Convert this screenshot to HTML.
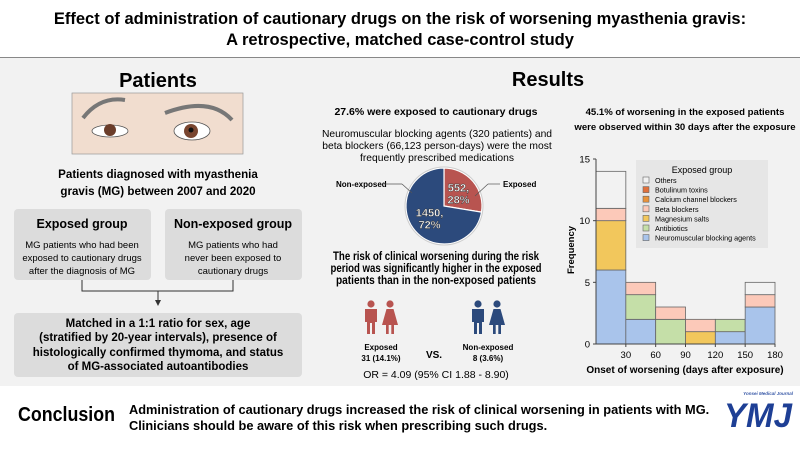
<!DOCTYPE html>
<html><head><meta charset="utf-8"><style>
body{margin:0;width:800px;height:450px;overflow:hidden;background:#fff;font-family:"Liberation Sans",sans-serif}
svg text{font-family:"Liberation Sans",sans-serif}
</style></head><body>
<svg width="800" height="450" viewBox="0 0 800 450">
<rect x="0" y="58" width="800" height="328" fill="#f2f2f2"/>
<line x1="0" y1="57.5" x2="800" y2="57.5" stroke="#888" stroke-width="1"/>
<text x="400" y="24" text-anchor="middle" font-size="16.5" font-weight="bold">Effect of administration of cautionary drugs on the risk of worsening myasthenia gravis:</text>
<text x="400" y="45" text-anchor="middle" font-size="16.5" font-weight="bold">A retrospective, matched case-control study</text>

<!-- Patients -->
<text x="158" y="87" text-anchor="middle" font-size="20" font-weight="bold">Patients</text>
<g>
<rect x="72" y="93" width="171" height="61" fill="#f1ddcf" stroke="#999" stroke-width="0.7"/>
<path d="M83 118 Q100 96 125 100" stroke="#777" stroke-width="4" fill="none"/>
<path d="M165 113 Q210 96 232 120" stroke="#777" stroke-width="4" fill="none"/>
<ellipse cx="110" cy="131" rx="18" ry="6" fill="#fff" stroke="#555" stroke-width="0.8"/>
<circle cx="110" cy="130" r="6" fill="#6b3d2a"/>
<ellipse cx="192" cy="131" rx="18" ry="9" fill="#fff" stroke="#555" stroke-width="0.8"/>
<circle cx="191" cy="131" r="7" fill="#7a4630"/><circle cx="191" cy="130" r="2.5" fill="#111"/>
</g>
<text x="158" y="178" text-anchor="middle" font-size="11.6" font-weight="bold">Patients diagnosed with myasthenia</text>
<text x="158" y="195" text-anchor="middle" font-size="11.6" font-weight="bold">gravis (MG) between 2007 and 2020</text>

<g>
<rect x="14" y="209" width="137" height="71" rx="4" fill="#dcdcdc"/>
<text x="82" y="228" text-anchor="middle" font-size="12.5" font-weight="bold">Exposed group</text>
<text x="82" y="248" text-anchor="middle" font-size="9.5">MG patients who had been</text>
<text x="82" y="261" text-anchor="middle" font-size="9.5">exposed to cautionary drugs</text>
<text x="82" y="274" text-anchor="middle" font-size="9.5">after the diagnosis of MG</text>
</g>
<g>
<rect x="165" y="209" width="137" height="71" rx="4" fill="#dcdcdc"/>
<text x="233" y="228" text-anchor="middle" font-size="12.5" font-weight="bold">Non-exposed group</text>
<text x="233" y="248" text-anchor="middle" font-size="9.5">MG patients who had</text>
<text x="233" y="261" text-anchor="middle" font-size="9.5">never been exposed to</text>
<text x="233" y="274" text-anchor="middle" font-size="9.5">cautionary drugs</text>
</g>
<path d="M82 280 V291 H233 V280 M158 291 V301" stroke="#333" stroke-width="1" fill="none"/>
<path d="M155 300 L161 300 L158 306 Z" fill="#333"/>
<g>
<rect x="14" y="313" width="288" height="64" rx="4" fill="#dcdcdc"/>
<text x="158" y="327" text-anchor="middle" font-size="11.5" font-weight="bold">Matched in a 1:1 ratio for sex, age</text>
<text x="158" y="341" text-anchor="middle" font-size="11.5" font-weight="bold">(stratified by 20-year intervals), presence of</text>
<text x="158" y="356" text-anchor="middle" font-size="11.5" font-weight="bold">histologically confirmed thymoma, and status</text>
<text x="158" y="370" text-anchor="middle" font-size="11.5" font-weight="bold">of MG-associated autoantibodies</text>
</g>

<!-- Results -->
<text x="548" y="86" text-anchor="middle" font-size="20" font-weight="bold">Results</text>
<text x="436" y="115" text-anchor="middle" font-size="10.5" font-weight="bold">27.6% were exposed to cautionary drugs</text>
<text x="437" y="137" text-anchor="middle" font-size="10.3">Neuromuscular blocking agents (320 patients) and</text>
<text x="437" y="149" text-anchor="middle" font-size="10.3">beta blockers (66,123 person-days) were the most</text>
<text x="437" y="161" text-anchor="middle" font-size="10.3">frequently prescribed medications</text>
<text x="685" y="115" text-anchor="middle" font-size="9.6" font-weight="bold">45.1% of worsening in the exposed patients</text>
<text x="685" y="130" text-anchor="middle" font-size="9.6" font-weight="bold">were observed within 30 days after the exposure</text>

<g id="pie"></g>
<text x="336" y="187" font-size="8" font-weight="bold">Non-exposed</text>
<line x1="384" y1="184" x2="402" y2="184" stroke="#555" stroke-width="0.7"/><line x1="402" y1="184" x2="412" y2="193" stroke="#555" stroke-width="0.7"/>
<text x="503" y="187" font-size="8" font-weight="bold">Exposed</text>
<line x1="500" y1="184" x2="488" y2="184" stroke="#555" stroke-width="0.7"/><line x1="488" y1="184" x2="475" y2="196" stroke="#555" stroke-width="0.7"/>

<text x="436" y="260" text-anchor="middle" font-size="11.5" font-weight="bold" textLength="206" lengthAdjust="spacingAndGlyphs">The risk of clinical worsening during the risk</text>
<text x="436" y="272" text-anchor="middle" font-size="11.5" font-weight="bold" textLength="211" lengthAdjust="spacingAndGlyphs">period was significantly higher in the exposed</text>
<text x="436" y="284" text-anchor="middle" font-size="11.5" font-weight="bold" textLength="200" lengthAdjust="spacingAndGlyphs">patients than in the non-exposed patients</text>

<defs>
<g id="man"><circle cx="8" cy="4" r="3.6"/><path d="M2 9 H14 V22 H12 V34 H9 V23 H7 V34 H4 V22 H2 Z"/></g>
<g id="woman"><circle cx="8" cy="4" r="3.6"/><path d="M4.5 9 H11.5 L16 25 H12 V34 H9.3 V25 H6.7 V34 H4 V25 H0 Z"/></g>
</defs>
<g fill="#b85450"><use href="#man" x="363" y="300"/><use href="#woman" x="382" y="300"/></g>
<g fill="#2c4a7c"><use href="#man" x="470" y="300"/><use href="#woman" x="489" y="300"/></g>
<text x="381" y="350" text-anchor="middle" font-size="8" font-weight="bold">Exposed</text>
<text x="381" y="361" text-anchor="middle" font-size="8" font-weight="bold">31 (14.1%)</text>
<text x="434" y="358" text-anchor="middle" font-size="10" font-weight="bold">VS.</text>
<text x="488" y="350" text-anchor="middle" font-size="8" font-weight="bold">Non-exposed</text>
<text x="488" y="361" text-anchor="middle" font-size="8" font-weight="bold">8 (3.6%)</text>
<text x="436" y="378" text-anchor="middle" font-size="10.5">OR = 4.09 (95% CI 1.88 - 8.90)</text>

<g id="hist"></g>
<text transform="translate(574,250) rotate(-90)" text-anchor="middle" font-size="9.5" font-weight="bold">Frequency</text>
<text x="685" y="373" text-anchor="middle" font-size="10" font-weight="bold">Onset of worsening (days after exposure)</text>

<!-- Conclusion -->
<text x="18" y="421" font-size="20" font-weight="bold" textLength="97" lengthAdjust="spacingAndGlyphs">Conclusion</text>
<text x="129" y="414" font-size="12.8" font-weight="bold">Administration of cautionary drugs increased the risk of clinical worsening in patients with MG.</text>
<text x="129" y="430" font-size="12.8" font-weight="bold">Clinicians should be aware of this risk when prescribing such drugs.</text>
<text x="793" y="395" text-anchor="end" font-size="4.5" font-style="italic" font-weight="bold" fill="#3a5aa8">Yonsei Medical Journal</text>
<text x="758" y="427" text-anchor="middle" font-size="34" font-style="italic" font-weight="bold" fill="#1e3f95" textLength="68" lengthAdjust="spacingAndGlyphs">YMJ</text>
</svg>
<script>
const NS="http://www.w3.org/2000/svg";
function mk(tag,attrs,parent){const e=document.createElementNS(NS,tag);for(const k in attrs)e.setAttribute(k,attrs[k]);parent.appendChild(e);return e;}
// Pie data
const pieLabels=["Exposed","Non-exposed"];
const pieCounts=[552,1450];
const piePct=["28%","72%"];
const pieColors=["#b85450","#2c4a7c"];
(function(){
 const g=document.getElementById('pie');const cx=444,cy=206,r=38;
 const tot=pieCounts.reduce((a,b)=>a+b,0);let a0=-Math.PI/2;
 pieCounts.forEach((v,i)=>{
  const a1=a0+v/tot*2*Math.PI;
  const x0=cx+r*Math.cos(a0),y0=cy+r*Math.sin(a0),x1=cx+r*Math.cos(a1),y1=cy+r*Math.sin(a1);
  const p=mk('path',{d:`M${cx} ${cy} L${x0} ${y0} A${r} ${r} 0 ${a1-a0>Math.PI?1:0} 1 ${x1} ${y1} Z`,fill:pieColors[i],stroke:'#fff','stroke-width':1.2},g);
  
  
  const am=(a0+a1)/2,lr=r*0.5;
  const lx=cx+lr*Math.cos(am),ly=cy+lr*Math.sin(am);
  [v+",",piePct[i]].forEach((s,j)=>{
   const t=mk('text',{x:lx,y:ly-2+j*12,'text-anchor':'middle','font-size':11,'font-weight':'bold',fill:'#fff',stroke:'#333','stroke-width':0.4},g);
   t.textContent=s;
   
   
  });
  a0=a1;
 });
 mk('circle',{cx:cx,cy:cy,r:r+1,fill:'none',stroke:'#ccc','stroke-width':1},g);
})();
// Histogram data (stack order bottom->top)
const binStarts=[0,30,60,90,120,150];
const seriesNames=["Neuromuscular blocking agents","Antibiotics","Magnesium salts","Beta blockers","Calcium channel blockers","Botulinum toxins","Others"];
const seriesColors=["#a9c4eb","#c5dfa8","#f2c75c","#fcc9b9","#e8923a","#e0703c","#f2f2f2"];
const nmba=[6,2,0,0,1,3];
const antibiotics=[0,2,2,0,1,0];
const magnesium=[4,0,0,1,0,0];
const betaBlockers=[1,1,1,1,0,1];
const calcium=[0,0,0,0,0,0];
const botulinum=[0,0,0,0,0,0];
const others=[3,0,0,0,0,1];
const yTicks=[0,5,10,15];
const xTicks=[30,60,90,120,150,180];
(function(){
 const g=document.getElementById('hist');
 const X=d=>596+d/180*179, Y=v=>344-v/15*185;
 const series=[nmba,antibiotics,magnesium,betaBlockers,calcium,botulinum,others];
 binStarts.forEach((b,i)=>{
  let base=0;
  series.forEach((s,k)=>{
   if(s[i]>0){
    const r=mk('rect',{x:X(b),y:Y(base+s[i]),width:X(b+30)-X(b),height:Y(base)-Y(base+s[i]),fill:seriesColors[k],stroke:'#666','stroke-width':0.8},g);
    
    
   }
   base+=s[i];
  });
 });
 mk('line',{x1:596,y1:Y(0),x2:775,y2:Y(0),stroke:'#444','stroke-width':1},g);
 mk('line',{x1:596,y1:Y(0),x2:596,y2:Y(15),stroke:'#444','stroke-width':1},g);
 yTicks.forEach(v=>{
  mk('line',{x1:593,y1:Y(v),x2:596,y2:Y(v),stroke:'#444'},g);
  const t=mk('text',{x:590,y:Y(v)+3.5,'text-anchor':'end','font-size':9.5},g);t.textContent=v;
  
  
 });
 xTicks.forEach(v=>{
  mk('line',{x1:X(v),y1:Y(0),x2:X(v),y2:Y(0)+3,stroke:'#444'},g);
  const t=mk('text',{x:X(v),y:358,'text-anchor':'middle','font-size':9.5},g);t.textContent=v;
  
  
 });
 const lg=mk('g',{},g);
 
 
 mk('rect',{x:636,y:160,width:132,height:88,fill:'#e6e6e6'},lg);
 const lt=mk('text',{x:702,y:173,'text-anchor':'middle','font-size':9},lg);lt.textContent='Exposed group';
 for(let k=6;k>=0;k--){
  const yy=183+(6-k)*9.6;
  mk('rect',{x:643,y:yy-6,width:6,height:6,fill:seriesColors[k],stroke:'#666','stroke-width':0.6},lg);
  const t=mk('text',{x:655,y:yy,'font-size':7.2},lg);t.textContent=seriesNames[k];
  
  
 }
})();
</script>
</body></html>
